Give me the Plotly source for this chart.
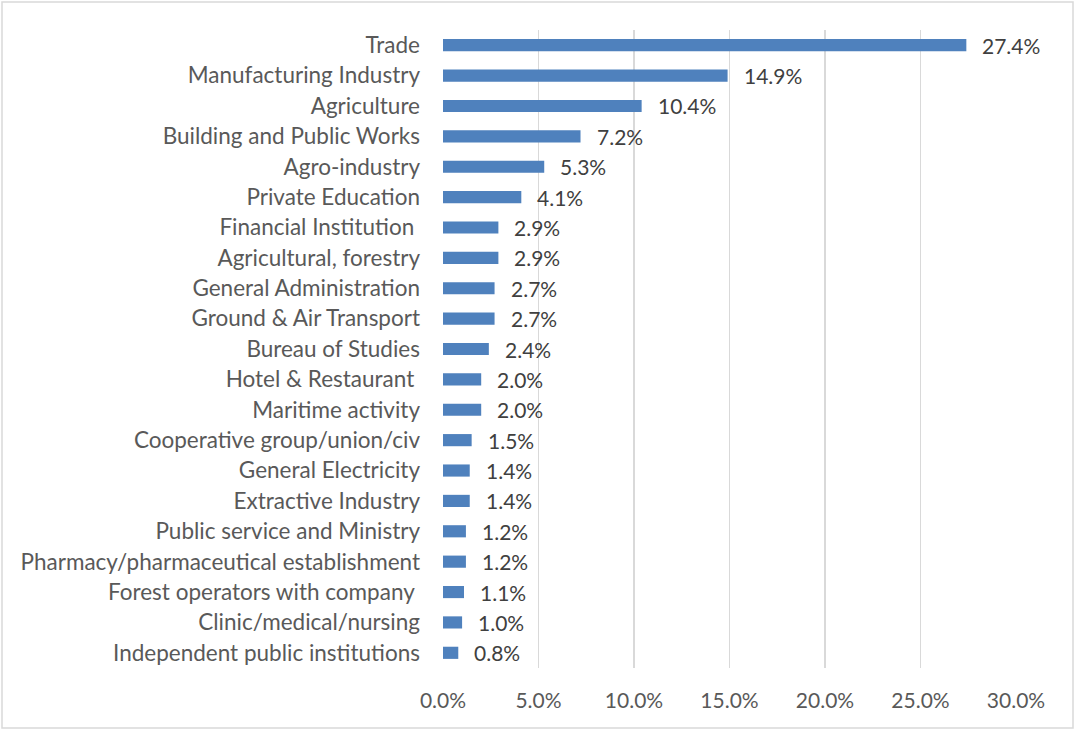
import plotly.graph_objects as go

categories = ["Trade", "Manufacturing Industry", "Agriculture", "Building and Public Works",
              "Agro-industry", "Private Education", "Financial Institution\u00a0", "Agricultural, forestry",
              "General Administration", "Ground & Air Transport", "Bureau of Studies",
              "Hotel & Restaurant\u00a0", "Maritime activity", "Cooperative group/union/civ",
              "General Electricity", "Extractive Industry", "Public service and Ministry",
              "Pharmacy/pharmaceutical establishment", "Forest operators with company\u00a0",
              "Clinic/medical/nursing", "Independent public institutions"]
values = [27.4, 14.9, 10.4, 7.2, 5.3, 4.1, 2.9, 2.9, 2.7, 2.7, 2.4, 2.0, 2.0, 1.5, 1.4, 1.4,
          1.2, 1.2, 1.1, 1.0, 0.8]
tick_vals = [0, 5, 10, 15, 20, 25, 30]
tick_text = ["0.0%", "5.0%", "10.0%", "15.0%", "20.0%", "25.0%", "30.0%"]

FONT = "Lato"
W, H = 1075, 730
L, R, T, B = 443, 59, 30, 62

fig = go.Figure()
fig.add_trace(go.Bar(
    y=categories, x=values, orientation="h",
    marker=dict(color="#4F81BD", line=dict(width=0)),
    width=0.4, hoverinfo="skip",
))
for c, v in zip(categories, values):
    fig.add_annotation(x=v, y=c, text=f"{v:.1f}%", showarrow=False, xanchor="left",
                       xshift=14, font=dict(family=FONT, size=21, color="#404040"))

pw = W - L - R
ph = H - T - B
fig.add_shape(type="rect", xref="paper", yref="paper",
              x0=(2 - L) / pw, x1=(W - 2 - L) / pw,
              y0=-(H - 2 - T - ph) / ph, y1=1 + (T - 2) / ph,
              line=dict(color="#D9D9D9", width=1.5), layer="below")

fig.update_layout(
    width=W, height=H,
    margin=dict(l=L, r=R, t=T, b=B, pad=0),
    paper_bgcolor="white", plot_bgcolor="white",
    showlegend=False,
    font=dict(family=FONT, size=21, color="#595959"),
    xaxis=dict(range=[0, 30], tickvals=tick_vals, ticktext=tick_text,
               showgrid=True, gridcolor="#D9D9D9", gridwidth=1.5, zeroline=False,
               showline=False, ticks="", ticklen=0, fixedrange=True,
               tickfont=dict(family=FONT, size=21, color="#595959")),
    yaxis=dict(categoryorder="array", categoryarray=categories[::-1],
               autorange=True, showgrid=False, zeroline=False, showline=False,
               ticks="", fixedrange=True,
               tickfont=dict(family=FONT, size=22.5, color="#595959")),
)
fig.update_xaxes(ticklabelstandoff=18)
fig.update_yaxes(ticklabelstandoff=22)
fig.write_html("out.html", config={"displayModeBar": False, "staticPlot": True},
               post_script="document.body.style.margin='0';document.body.style.padding='0';")
